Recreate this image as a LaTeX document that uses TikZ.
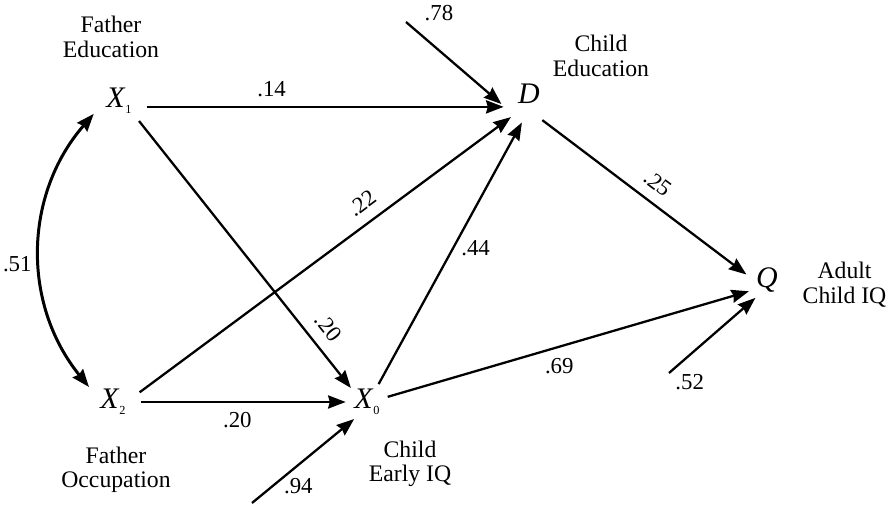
\documentclass[tikz,border=0pt]{standalone}
\usepackage{fontspec}
\setmainfont{Liberation Serif}
\usepackage{tikz}
\usetikzlibrary{arrows.meta,positioning}
\newcommand{\vsub}[1]{\kern0.5pt\raisebox{-3.4pt}{\fontsize{7}{8}\selectfont\upshape #1}}
\tikzset{
  var/.style = {circle, inner sep=0pt, minimum size=0.84cm, font=\fontsize{17}{20}\selectfont\itshape},
  bigvar/.style = {var, minimum size=1.12cm},
  desc/.style = {align=center, inner sep=2pt, font=\fontsize{13.5}{14}\selectfont},
  coef/.style = {inner sep=2pt, font=\fontsize{13}{15}\selectfont},
  arrow/.style = {line width=1.3pt, -{Stealth[length=10pt,width=7.5pt,inset=1pt]}},
  corr/.style = {line width=1.7pt, {Stealth[length=10pt,width=7.5pt,inset=1pt]}-{Stealth[length=10pt,width=7.5pt,inset=1pt]}}
}

\begin{document}
\begin{tikzpicture}[x=0.02cm, y=-0.02cm]
  \useasboundingbox (0,0) rectangle (893,506);
  % variables
  \node[bigvar] (x1) at (119,101) {X\vsub{1}};
  \node[bigvar] (x2) at (113,402) {X\vsub{2}};
  \node[var] (x0) at (367,402) {X\vsub{0}};
  \node[bigvar, minimum size=1.16cm] (d) at (529,94) {D};
  \node[var] (q) at (767,280) {Q};
  % descriptions
  \node[desc, above=0.23cm of x1, xshift=-0.16cm] (fe) {Father\\Education};
  \node[desc, below=0.25cm of x2, xshift=0.06cm] (fo) {Father\\Occupation};
  \node[desc, below=0.27cm of x0, xshift=0.86cm] (cq) {Child\\Early IQ};
  \node[desc] (ce) at (601,56) {Child\\Education};
  \node[desc, right=0.21cm of q, yshift=-0.09cm] (aq) {Adult\\Child IQ};
  % residual paths
  \coordinate (e78) at (406,22);
  \coordinate (e94) at (252,503);
  \coordinate (e52) at (669,373);
  % paths
  \draw[arrow] (x1.-12) -- (x1.-12 -| d.210) node[coef, pos=0.35, above=3pt] {.14};
  \draw[arrow] (x1.-45) -- (x0.139) node[coef, pos=0.82, sloped, above=4.5pt] {.20};
  \draw[arrow] (x2.20) -- (d.232) node[coef, pos=0.63, sloped, above=4pt] {.22};
  \draw[arrow] (x2) -- (x0) node[coef, pos=0.47, below=3pt] {.20};
  \draw[arrow] (x0.57) -- (d.256) node[coef, pos=0.52, right=2pt] {.44};
  \draw[arrow] (x0.14) -- (q.212) node[coef, pos=0.475, below=4pt] {.69};
  \draw[arrow] (d.-63) -- (q.165) node[coef, pos=0.51, sloped, above=4pt] {.25};
  \draw[corr] (x1.207) to[bend right=40] node[coef, pos=0.55, left=2pt] {.51} (x2.148);
  \draw[arrow] (e78) node[coef, above right, xshift=8pt, yshift=-2pt] {.78} -- (d.200);
  \draw[arrow] (e94) -- (x0.233) node[coef, pos=0.2, right=4pt] {.94};
  \draw[arrow] (e52) node[coef, below right, xshift=1pt, yshift=2pt] {.52} -- (q.237);
\end{tikzpicture}
\end{document}
